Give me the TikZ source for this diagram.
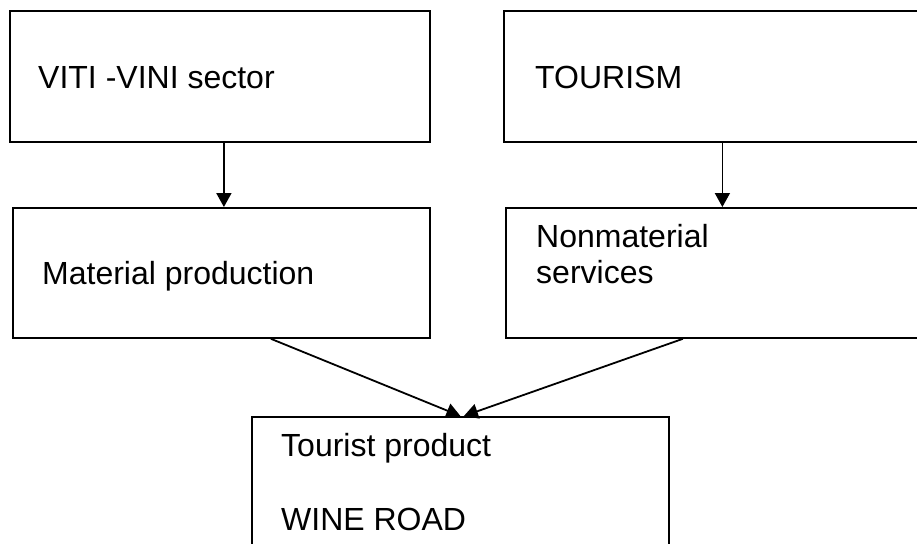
\documentclass[tikz,border=0pt]{standalone}
\usepackage{fontspec}
\setmainfont{Liberation Sans}
\usetikzlibrary{arrows.meta}
\begin{document}
\begin{tikzpicture}[x=1pt,y=-1pt,
  box/.style={draw,line width=1.8pt,rectangle,inner sep=0pt,anchor=north west},
  lbl/.style={anchor=base west,inner sep=0pt,font=\fontsize{32}{36}\selectfont},
  arr/.style={line width=1.8pt,-{Triangle[width=15pt,length=14pt]}}]
\useasboundingbox (0,0) rectangle (917,543);
\clip (0,0) rectangle (917,543);
\node[box,minimum width=420pt,minimum height=131pt] (b1) at (9,10) {};
\node[box,minimum width=437pt,minimum height=131pt] (b2) at (503,10) {};
\node[box,minimum width=417pt,minimum height=130pt] (b3) at (12,207) {};
\node[box,minimum width=435pt,minimum height=130pt] (b4) at (505,207) {};
\node[box,minimum width=417pt,minimum height=150pt] (b5) at (251,416) {};
\node[lbl] (t1) at (38,88) {VITI -VINI sector};
\node[lbl] (t2) at (535,88) {TOURISM};
\node[lbl] (t3) at (42,284) {Material production};
\node[lbl] (t4a) at (536,247) {Nonmaterial};
\node[lbl] (t4b) at (536,283) {services};
\node[lbl] (t5a) at (281,456) {Tourist product};
\node[lbl] (t5b) at (281,530) {WINE ROAD};
\draw[arr] ([xshift=4pt]b1.south) -- ([xshift=4pt]b1.south |- b3.north);
\draw[arr] (b2.south) -- (b2.south |- b4.north);
\draw[arr] ([xshift=49.5pt]b3.south) -- (b5.north);
\draw[arr] ([xshift=-40.5pt]b4.south) -- ([xshift=3.5pt]b5.north);
\end{tikzpicture}
\end{document}
